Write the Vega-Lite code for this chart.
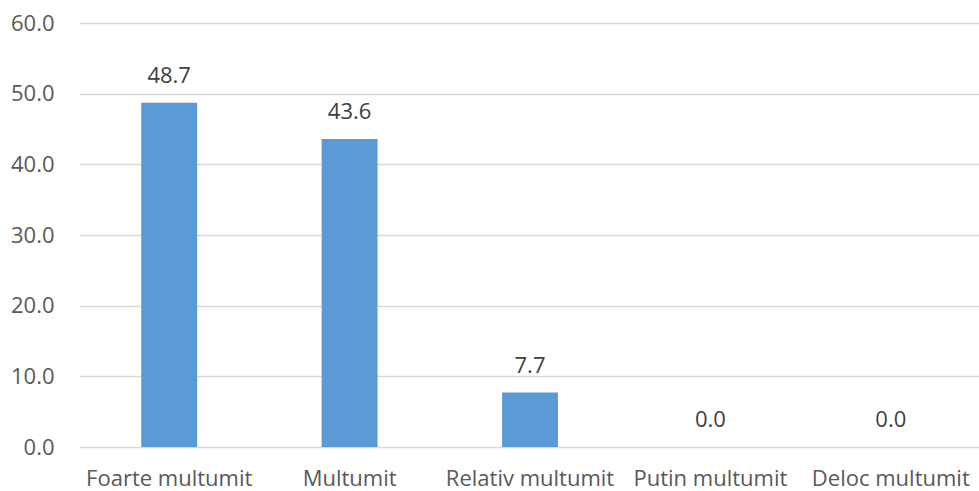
{
  "$schema": "https://vega.github.io/schema/vega-lite/v6.json",
  "width": 902,
  "height": 424,
  "autosize": {"type": "none"},
  "padding": {"left": 79, "top": 23, "right": 0, "bottom": 44},
  "background": "#ffffff",
  "data": {
    "values": [
      {"raspuns": "Foarte multumit", "procent": 48.7},
      {"raspuns": "Multumit", "procent": 43.6},
      {"raspuns": "Relativ multumit", "procent": 7.7},
      {"raspuns": "Putin multumit", "procent": 0.0},
      {"raspuns": "Deloc multumit", "procent": 0.0}
    ]
  },
  "config": {
    "view": {"stroke": null},
    "font": "Open Sans",
    "axis": {"labelFont": "Open Sans", "labelColor": "#595959", "labelFontSize": 22}
  },
  "encoding": {
    "x": {
      "field": "raspuns",
      "type": "nominal",
      "sort": null,
      "scale": {"paddingInner": 0.69, "paddingOuter": 0.345},
      "axis": {"title": null, "labelAngle": 0, "ticks": false, "domain": false, "labelPadding": 21, "labelOverlap": false}
    },
    "y": {
      "field": "procent",
      "type": "quantitative",
      "scale": {"domain": [0, 60], "nice": false},
      "axis": {
        "title": null,
        "values": [0, 10, 20, 30, 40, 50, 60],
        "format": ".1f",
        "ticks": false,
        "domain": false,
        "labelPadding": 25,
        "gridColor": "#d9d9d9",
        "gridWidth": 1.5
      }
    }
  },
  "layer": [
    {"mark": {"type": "bar", "color": "#5b9bd5"}},
    {
      "mark": {"type": "text", "baseline": "alphabetic", "dy": -20, "fontSize": 22, "color": "#404040", "font": "Open Sans"},
      "encoding": {"text": {"field": "procent", "type": "quantitative", "format": ".1f"}}
    }
  ]
}
